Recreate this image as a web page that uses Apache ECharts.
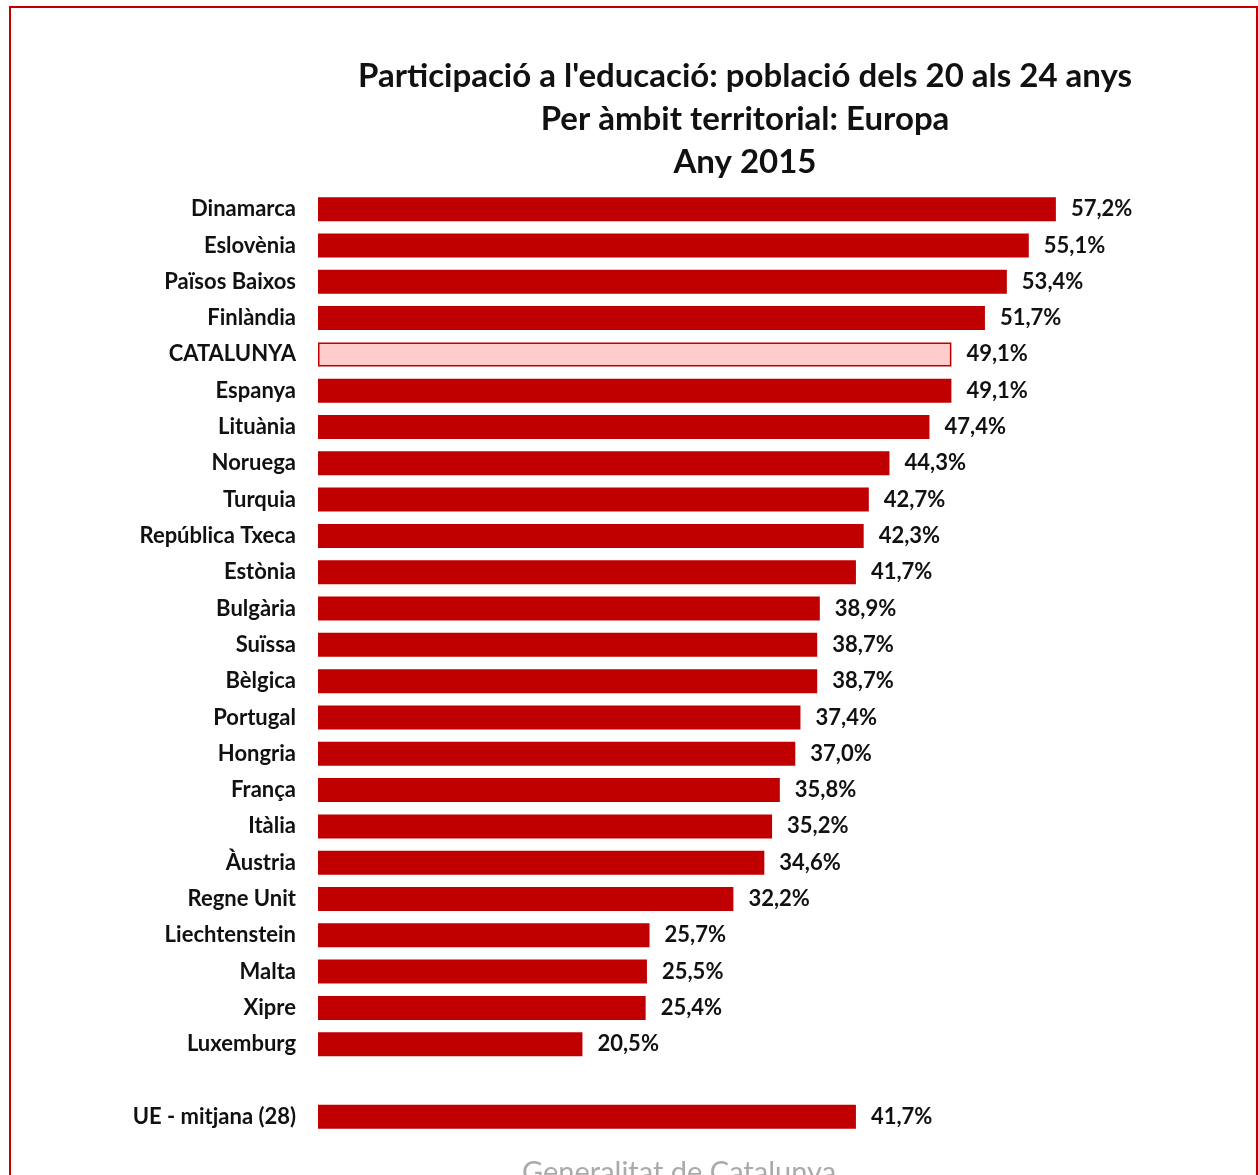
<!DOCTYPE html>
<html>
<head>
<meta charset="utf-8">
<script src="https://cdn.jsdelivr.net/npm/echarts@6/dist/echarts.min.js"></script>
<style>
html,body{margin:0;padding:0;background:#fff;}
#c{width:1258px;height:1175px;}
</style>
</head>
<body>
<div id="c"></div>
<script>
const titleLines = ["Participació a l'educació: població dels 20 als 24 anys", "Per àmbit territorial: Europa", "Any 2015"];
const categories = ["Dinamarca","Eslovènia","Països Baixos","Finlàndia","CATALUNYA","Espanya","Lituània","Noruega","Turquia","República Txeca","Estònia","Bulgària","Suïssa","Bèlgica","Portugal","Hongria","França","Itàlia","Àustria","Regne Unit","Liechtenstein","Malta","Xipre","Luxemburg","","UE - mitjana (28)"];
const values = [57.2,55.1,53.4,51.7,49.1,49.1,47.4,44.3,42.7,42.3,41.7,38.9,38.7,38.7,37.4,37.0,35.8,35.2,34.6,32.2,25.7,25.5,25.4,20.5,null,41.7];
const highlight = "CATALUNYA";
const footerText = "Generalitat de Catalunya";

const FONT = "Lato, 'Open Sans', sans-serif";
const chart = echarts.init(document.getElementById('c'), null, {renderer:'canvas'});
const seriesData = values.map((v, i) => {
  if (v === null) return '-';
  if (categories[i] === highlight) {
    return {value: v, itemStyle: {color: '#FFCCCC', borderColor: '#C00000', borderWidth: 1.5}};
  }
  return v;
});
chart.setOption({
  backgroundColor: '#ffffff',
  animation: false,
  title: {
    text: titleLines.join('\n'),
    left: 740,
    textAlign: 'center',
    top: 50,
    textStyle: {fontFamily: FONT, fontSize: 33, fontWeight: 'bold', color: '#111', lineHeight: 43}
  },
  graphic: [
    {type: 'rect', shape: {x: 10, y: 7, width: 1247, height: 1200}, style: {fill: 'none', stroke: '#C00000', lineWidth: 2}, z: 100},
    {type: 'text', left: 522, top: 1158, style: {text: footerText, fill: '#aaa', font: '29px ' + FONT}, z: 100}
  ],
  grid: {left: 318, top: 191, width: 774, height: 944, containLabel: false},
  xAxis: {type: 'value', min: 0, max: 60, show: false, splitLine: {show: false}},
  yAxis: {
    type: 'category',
    data: categories,
    inverse: true,
    axisLine: {show: false},
    axisTick: {show: false},
    axisLabel: {margin: 22, fontFamily: FONT, fontSize: 22, fontWeight: 'bold', color: '#111'}
  },
  series: [{
    type: 'bar',
    data: seriesData,
    barWidth: 24,
    itemStyle: {color: '#C00000'},
    label: {
      show: true,
      position: 'right',
      distance: 15,
      fontFamily: FONT,
      fontSize: 22,
      fontWeight: 'bold',
      color: '#111',
      formatter: p => (p.value === '-' || p.value == null) ? '' : Number(p.value).toFixed(1).replace('.', ',') + '%'
    }
  }]
});
</script>
</body>
</html>
